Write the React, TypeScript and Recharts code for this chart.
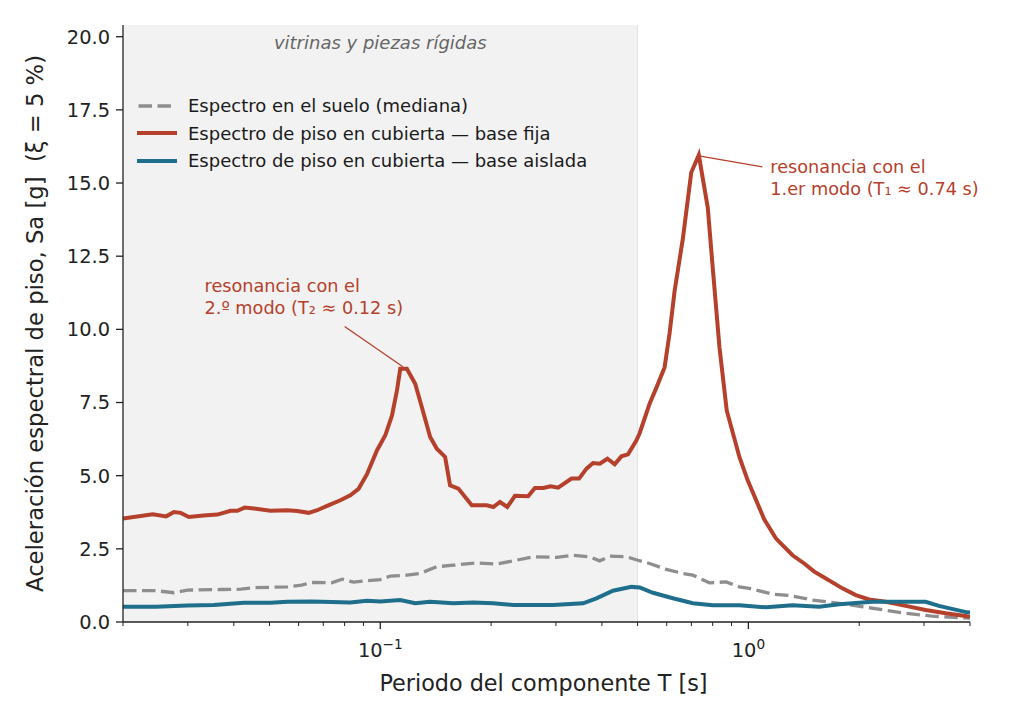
import {
  Legend,
  Line,
  LineChart,
  ReferenceArea,
  ReferenceDot,
  ReferenceLine,
  XAxis,
  YAxis,
} from "recharts"

const FONT = "DejaVu Sans, sans-serif"
const INK = "#222222"
const RED = "#b5412c"

// Espectro en el suelo (mediana)
const sueloT = [0.02, 0.0246, 0.0275, 0.0299, 0.0368, 0.0418, 0.0454, 0.0559, 0.0611, 0.065, 0.0737, 0.0788, 0.0847, 0.092, 0.1, 0.1065, 0.1181, 0.1284, 0.1424, 0.1579, 0.1828, 0.2072, 0.2298, 0.2602, 0.3012, 0.3341, 0.3707, 0.3947, 0.4201, 0.4662, 0.5012, 0.5391, 0.5983, 0.6637, 0.7065, 0.784, 0.87, 0.9454, 1.006, 1.164, 1.291, 1.494, 1.765, 2.172, 2.676, 3.159, 4.0]
const sueloSa = [1.07, 1.07, 1.0, 1.09, 1.11, 1.12, 1.17, 1.2, 1.26, 1.35, 1.34, 1.46, 1.36, 1.41, 1.45, 1.57, 1.6, 1.66, 1.89, 1.94, 2.02, 1.98, 2.09, 2.23, 2.21, 2.28, 2.23, 2.09, 2.25, 2.23, 2.11, 2.0, 1.8, 1.66, 1.6, 1.34, 1.37, 1.2, 1.15, 0.95, 0.91, 0.75, 0.64, 0.47, 0.3, 0.2, 0.13]

// Espectro de piso en cubierta, base fija
const fijaT = [0.02, 0.0241, 0.0262, 0.0275, 0.0287, 0.0302, 0.0331, 0.0361, 0.0392, 0.0409, 0.0428, 0.0454, 0.0503, 0.0559, 0.0595, 0.0639, 0.0674, 0.0717, 0.0779, 0.0829, 0.0873, 0.092, 0.098, 0.1032, 0.1076, 0.111, 0.1133, 0.1181, 0.1244, 0.1297, 0.1366, 0.1424, 0.15, 0.1547, 0.163, 0.1772, 0.1946, 0.2028, 0.2114, 0.2213, 0.2322, 0.2522, 0.263, 0.277, 0.2902, 0.3042, 0.3307, 0.3468, 0.3633, 0.3785, 0.3947, 0.4141, 0.4334, 0.4519, 0.471, 0.4961, 0.5065, 0.5391, 0.5622, 0.592, 0.6107, 0.6302, 0.6637, 0.6995, 0.7333, 0.7756, 0.8002, 0.8345, 0.8733, 0.9454, 0.9957, 1.105, 1.189, 1.318, 1.418, 1.51, 1.624, 1.801, 1.958, 2.128, 2.361, 2.676, 3.03, 3.434, 3.929, 4.0]
const fijaSa = [3.54, 3.68, 3.61, 3.76, 3.73, 3.59, 3.64, 3.67, 3.8, 3.8, 3.91, 3.88, 3.8, 3.82, 3.79, 3.73, 3.82, 3.97, 4.16, 4.33, 4.55, 5.05, 5.87, 6.38, 7.06, 7.91, 8.65, 8.65, 8.14, 7.34, 6.32, 5.92, 5.64, 4.67, 4.56, 3.99, 3.99, 3.93, 4.1, 3.93, 4.31, 4.3, 4.58, 4.58, 4.64, 4.59, 4.9, 4.9, 5.24, 5.43, 5.41, 5.58, 5.39, 5.66, 5.73, 6.2, 6.45, 7.46, 8.0, 8.7, 9.86, 11.3, 13.1, 15.36, 15.96, 14.16, 12.1, 9.39, 7.23, 5.64, 4.84, 3.5, 2.85, 2.28, 2.0, 1.72, 1.49, 1.15, 0.92, 0.77, 0.69, 0.55, 0.41, 0.3, 0.2, 0.19]

// Espectro de piso en cubierta, base aislada
const aisladaT = [0.02, 0.0246, 0.0299, 0.0353, 0.0426, 0.0503, 0.0559, 0.0652, 0.0829, 0.092, 0.1, 0.1133, 0.1244, 0.1366, 0.1579, 0.179, 0.2028, 0.2298, 0.2658, 0.2949, 0.3556, 0.3866, 0.4287, 0.481, 0.5065, 0.5504, 0.6235, 0.7065, 0.8002, 0.9454, 1.117, 1.318, 1.557, 1.765, 2.172, 2.676, 3.03, 3.294, 3.929, 4.0]
const aisladaSa = [0.52, 0.52, 0.56, 0.58, 0.66, 0.66, 0.69, 0.7, 0.67, 0.73, 0.7, 0.75, 0.64, 0.69, 0.64, 0.67, 0.64, 0.58, 0.58, 0.58, 0.64, 0.81, 1.07, 1.2, 1.18, 1.0, 0.81, 0.64, 0.57, 0.57, 0.5, 0.57, 0.52, 0.61, 0.69, 0.69, 0.69, 0.55, 0.33, 0.32]

const xMajorTicks = [0.1, 1]
const xTicks = [0.02, 0.03, 0.04, 0.05, 0.06, 0.07, 0.08, 0.09, 0.1, 0.2, 0.3, 0.4, 0.5, 0.6, 0.7, 0.8, 0.9, 1, 2, 3, 4]
const yTicks = [0, 2.5, 5, 7.5, 10, 12.5, 15, 17.5, 20]

const zoneRange = [0.02, 0.5]
const zoneText = "vitrinas y piezas rígidas"

const notes = [
  { x: 1.147, y: 15.35, lines: ["resonancia con el", "1.er modo (T\u2081 \u2248 0.74 s)"], from: { x: 1.091, y: 15.55 }, to: { x: 0.74, y: 15.92 } },
  { x: 0.0333, y: 11.27, lines: ["resonancia con el", "2.\u00ba modo (T\u2082 \u2248 0.12 s)"], from: { x: 0.08, y: 10.1 }, to: { x: 0.1152, y: 8.72 } },
]

const toPoints = (ts: number[], vals: number[]) => ts.map((T, i) => ({ T, sa: vals[i] }))

const series = [
  { key: "suelo", name: "Espectro en el suelo (mediana)", data: toPoints(sueloT, sueloSa), color: "#8e8e8e", width: 3.3, dash: "13.5 5.5" },
  { key: "fija", name: "Espectro de piso en cubierta \u2014 base fija", data: toPoints(fijaT, fijaSa), color: RED, width: 4, dash: undefined },
  { key: "aislada", name: "Espectro de piso en cubierta \u2014 base aislada", data: toPoints(aisladaT, aisladaSa), color: "#1f6e8c", width: 4, dash: undefined },
]

function LogTick(props: any) {
  const { x, y, payload } = props
  const v = payload.value
  const major = xMajorTicks.some((m) => Math.abs(m - v) < 1e-9)
  const exp = Math.round(Math.log10(v))
  return (
    <g>
      <line x1={x} x2={x} y1={y} y2={y + (major ? 7 : 4)} stroke={INK} strokeWidth={major ? 1.3 : 1} />
      {major && (
        <text x={x} y={y + 35} textAnchor="middle" fontFamily={FONT} fontSize={19.4} fill={INK}>
          10
          <tspan dy={-8} fontSize={13.6}>{exp < 0 ? `\u2212${-exp}` : `${exp}`}</tspan>
        </text>
      )}
    </g>
  )
}

function renderLegend() {
  return (
    <div style={{ fontFamily: FONT, fontSize: 18, color: "#1a1a1a" }}>
      {series.map((s) => (
        <div key={s.key} style={{ display: "flex", alignItems: "center", height: 27.5 }}>
          <svg width={40} height={10} style={{ display: "block" }}>
            <line
              x1={s.dash ? 1.5 : 0}
              x2={s.dash ? 34.5 : 40}
              y1={5}
              y2={5}
              stroke={s.color}
              strokeWidth={s.width}
              strokeDasharray={s.dash}
            />
          </svg>
          <span style={{ marginLeft: 11, whiteSpace: "nowrap" }}>{s.name}</span>
        </div>
      ))}
    </div>
  )
}

function noteLabel(lines: string[]) {
  return (props: any) => {
    const vb = props.viewBox
    const cx = vb.x + vb.width / 2
    const cy = vb.y + vb.height / 2
    return (
      <text x={cx} y={cy} fontFamily={FONT} fontSize={17.7} fill={RED}>
        {lines.map((l, i) => (
          <tspan key={i} x={cx} dy={i === 0 ? 0 : 22}>
            {l}
          </tspan>
        ))}
      </text>
    )
  }
}

export default function App() {
  return (
    <LineChart width={1004} height={704} margin={{ top: 17, right: 42, bottom: 0, left: 0 }}>
      <ReferenceArea
        x1={zoneRange[0]}
        x2={zoneRange[1]}
        fill="#f2f2f2"
        fillOpacity={1}
        stroke="none"
        label={(props: any) => {
          const vb = props.viewBox
          return (
            <text
              x={vb.x + vb.width / 2}
              y={vb.y + 23.5}
              textAnchor="middle"
              fontFamily={FONT}
              fontStyle="italic"
              fontSize={18}
              fill="#666666"
            >
              {zoneText}
            </text>
          )
        }}
      />
      <ReferenceLine x={zoneRange[1]} stroke="#e2e2e2" strokeWidth={1} />
      <XAxis
        dataKey="T"
        type="number"
        scale="log"
        domain={[0.02, 4]}
        allowDataOverflow
        ticks={xTicks}
        interval={0}
        height={90}
        tickSize={0}
        tickMargin={0}
        tickLine={false}
        axisLine={{ stroke: INK, strokeWidth: 1.3 }}
        tick={<LogTick />}
        label={(props: any) => {
          const vb = props.viewBox
          return (
            <text x={vb.x + vb.width / 2 - 3} y={vb.y + 69} textAnchor="middle" fontFamily={FONT} fontSize={22.3} fill={INK}>
              Periodo del componente T [s]
            </text>
          )
        }}
      />
      <YAxis
        type="number"
        domain={[0, 20.4]}
        allowDataOverflow
        ticks={yTicks}
        interval={0}
        width={115}
        tickSize={7}
        tickMargin={6}
        tickFormatter={(v: number) => v.toFixed(1)}
        tick={{ fill: INK, fontSize: 19.4, fontFamily: FONT }}
        tickLine={{ stroke: INK, strokeWidth: 1.3 }}
        axisLine={{ stroke: INK, strokeWidth: 1.3 }}
        label={(props: any) => {
          const vb = props.viewBox
          const cx = vb.x + 35
          const cy = vb.y + vb.height / 2
          return (
            <text
              x={cx}
              y={cy}
              transform={`rotate(-90 ${cx} ${cy})`}
              textAnchor="middle"
              fontFamily={FONT}
              fontSize={22.7}
              fill={INK}
              style={{ whiteSpace: "pre" }}
            >
              {"Aceleración espectral de piso, Sa [g]  (ξ = 5 %)"}
            </text>
          )
        }}
      />
      {series.map((s) => (
        <Line
          key={s.key}
          data={s.data}
          dataKey="sa"
          name={s.name}
          type="linear"
          stroke={s.color}
          strokeWidth={s.width}
          strokeDasharray={s.dash}
          dot={false}
          activeDot={false}
          isAnimationActive={false}
        />
      ))}
      {notes.map((n, i) => (
        <ReferenceLine
          key={`seg${i}`}
          segment={[n.from, n.to]}
          stroke={RED}
          strokeWidth={1.3}
        />
      ))}
      {notes.map((n, i) => (
        <ReferenceDot key={`lab${i}`} x={n.x} y={n.y} r={1} fill="none" stroke="none" label={noteLabel(n.lines)} />
      ))}
      <Legend
        layout="vertical"
        align="center"
        verticalAlign="middle"
        wrapperStyle={{ left: 129, top: 84, width: "auto" }}
        content={renderLegend}
      />
    </LineChart>
  )
}
